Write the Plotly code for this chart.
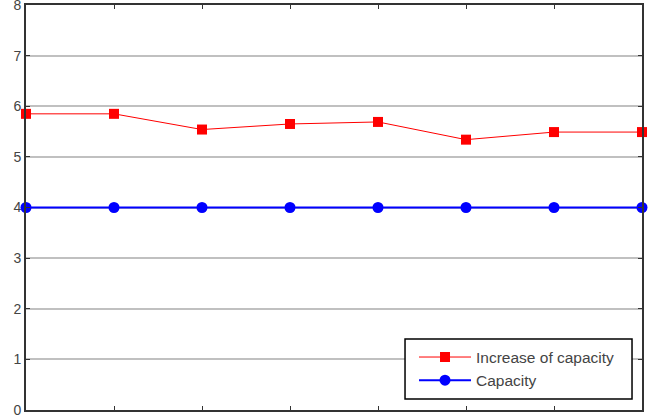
import plotly.graph_objects as go

x_pos = [1, 2, 3, 4, 5, 6, 7, 8]
increase_of_capacity = [5.85, 5.85, 5.54, 5.65, 5.69, 5.34, 5.49, 5.49]
capacity = [4, 4, 4, 4, 4, 4, 4, 4]
y_ticks = [0, 1, 2, 3, 4, 5, 6, 7, 8]

fig = go.Figure()
fig.add_trace(go.Scatter(
    x=x_pos, y=increase_of_capacity, mode="lines+markers", name="Increase of capacity",
    line=dict(color="#ff0000", width=1),
    marker=dict(symbol="square", size=10, color="#ff0000"),
    cliponaxis=False,
))
fig.add_trace(go.Scatter(
    x=x_pos, y=capacity, mode="lines+markers", name="Capacity",
    line=dict(color="#0000ff", width=2),
    marker=dict(symbol="circle", size=11, color="#0000ff"),
    cliponaxis=False,
))

# legend frame drawn as a box behind the legend entries
fig.add_shape(
    type="rect", xref="paper", yref="paper",
    x0=0.6153, x1=0.9838, y0=0.0272, y1=0.1753,
    fillcolor="white", line=dict(color="black", width=1.5), layer="above",
)

fig.update_layout(
    width=652, height=416,
    margin=dict(l=26, r=10, t=5, b=6),
    paper_bgcolor="white", plot_bgcolor="white",
    font=dict(family="Liberation Sans, Arial, sans-serif", size=14, color="#444444"),
    showlegend=True,
    legend=dict(
        x=0.9643, y=0.031, xanchor="right", yanchor="bottom",
        bgcolor="rgba(0,0,0,0)", borderwidth=0,
        font=dict(size=15.5, color="#444444"),
        itemwidth=52,
        tracegroupgap=0,
    ),
    xaxis=dict(
        range=[1, 8], tickvals=x_pos, showticklabels=False,
        ticks="inside", ticklen=4, tickcolor="#333333",
        showgrid=False, zeroline=False, automargin=False,
        showline=True, linecolor="#333333", linewidth=2, mirror="ticks",
    ),
    yaxis=dict(
        range=[0, 8], tickvals=y_ticks,
        ticks="inside", ticklen=4, tickcolor="#333333",
        ticklabeloverflow="allow", automargin=False,
        tickfont=dict(size=14, color="#444444"),
        showgrid=True, gridcolor="#c0c0c0", gridwidth=1.5,
        zeroline=False,
        showline=True, linecolor="#333333", linewidth=2, mirror="ticks",
    ),
)

fig.write_html("out.html")
